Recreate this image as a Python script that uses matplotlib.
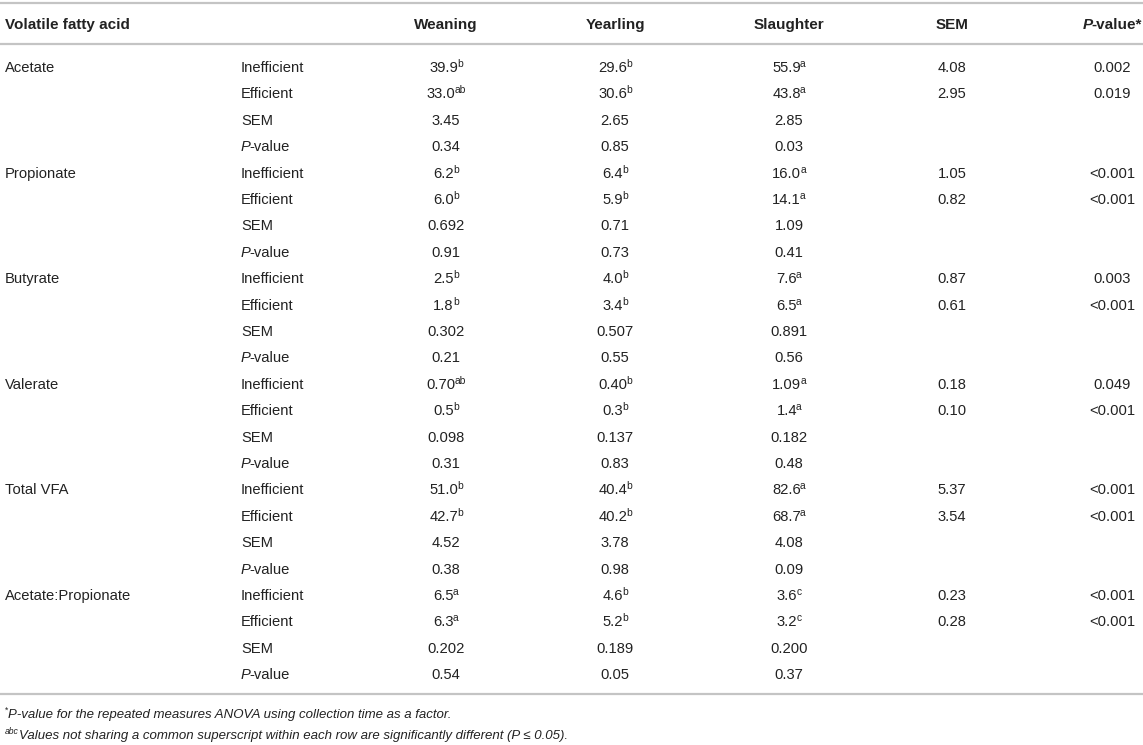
import matplotlib
matplotlib.use("Agg")
import matplotlib.pyplot as plt

# table contents
acids = ['Acetate', 'Propionate', 'Butyrate', 'Valerate', 'Total VFA', 'Acetate:Propionate']
stages = ['Weaning', 'Yearling', 'Slaughter']

weaning_inefficient = [('39.9', 'b'), ('6.2', 'b'), ('2.5', 'b'), ('0.70', 'ab'), ('51.0', 'b'), ('6.5', 'a')]
weaning_efficient = [('33.0', 'ab'), ('6.0', 'b'), ('1.8', 'b'), ('0.5', 'b'), ('42.7', 'b'), ('6.3', 'a')]
weaning_sem = ['3.45', '0.692', '0.302', '0.098', '4.52', '0.202']
weaning_p = ['0.34', '0.91', '0.21', '0.31', '0.38', '0.54']

yearling_inefficient = [('29.6', 'b'), ('6.4', 'b'), ('4.0', 'b'), ('0.40', 'b'), ('40.4', 'b'), ('4.6', 'b')]
yearling_efficient = [('30.6', 'b'), ('5.9', 'b'), ('3.4', 'b'), ('0.3', 'b'), ('40.2', 'b'), ('5.2', 'b')]
yearling_sem = ['2.65', '0.71', '0.507', '0.137', '3.78', '0.189']
yearling_p = ['0.85', '0.73', '0.55', '0.83', '0.98', '0.05']

slaughter_inefficient = [('55.9', 'a'), ('16.0', 'a'), ('7.6', 'a'), ('1.09', 'a'), ('82.6', 'a'), ('3.6', 'c')]
slaughter_efficient = [('43.8', 'a'), ('14.1', 'a'), ('6.5', 'a'), ('1.4', 'a'), ('68.7', 'a'), ('3.2', 'c')]
slaughter_sem = ['2.85', '1.09', '0.891', '0.182', '4.08', '0.200']
slaughter_p = ['0.03', '0.41', '0.56', '0.48', '0.09', '0.37']

sem_inefficient = ['4.08', '1.05', '0.87', '0.18', '5.37', '0.23']
sem_efficient = ['2.95', '0.82', '0.61', '0.10', '3.54', '0.28']
p_inefficient = ['0.002', '<0.001', '0.003', '0.049', '<0.001', '<0.001']
p_efficient = ['0.019', '<0.001', '<0.001', '<0.001', '<0.001', '<0.001']

footnote1 = 'P-value for the repeated measures ANOVA using collection time as a factor.'
footnote2 = 'Values not sharing a common superscript within each row are significantly different (P \u2264 0.05).'

plt.rcParams['font.family'] = ['Liberation Sans', 'DejaVu Sans']
TXT = '#222222'
LINE = '#c4c4c4'
FS = 10.6
HFS = 11

fig = plt.figure(figsize=(11.43, 7.45), dpi=100)
ax = fig.add_axes([0, 0, 1, 1])
ax.set_xlim(0, 1143)
ax.set_ylim(745, 0)
ax.axis('off')
fig.canvas.draw()
renderer = fig.canvas.get_renderer()


def width_of(s, **kw):
    t = ax.text(0, 0, s, fontsize=kw.get('size', FS), fontweight=kw.get('weight', 'normal'),
                fontstyle=kw.get('style', 'normal'))
    w = t.get_window_extent(renderer).width
    t.remove()
    return w - kw.get('kern', 0)


def rich(x, y, segs, ha='left'):
    # segs: list of (text, options); y is the row centre in pixels
    widths = [width_of(s, **o) for s, o in segs]
    total = sum(widths)
    if ha == 'center':
        x = x - total / 2
    elif ha == 'right':
        x = x - total
    base = y + 5
    for (s, o), w in zip(segs, widths):
        ax.text(x, base - o.get('dy', 0), s, fontsize=o.get('size', FS),
                fontweight=o.get('weight', 'normal'), fontstyle=o.get('style', 'normal'),
                color=TXT, va='baseline', ha='left')
        x += w


def val(v, sup=None):
    if not sup:
        return [(v, {})]
    return [(v, {'kern': 1}), (sup, {'size': FS * 0.7, 'dy': 5})]


col_x = {'acid': 5, 'kind': 241, 'Weaning': 446, 'Yearling': 615, 'Slaughter': 789,
         'sem': 952, 'p': 1112}
row0, dy = 67, 26.4

# rules
for yy in (3, 44, 694):
    ax.plot([0, 1143], [yy, yy], color=LINE, lw=1.6, solid_capstyle='butt')

# header
hy = 24
bold = {'weight': 'bold', 'size': HFS}
rich(col_x['acid'], hy, [('Volatile fatty acid', bold)])
for st in stages:
    rich(col_x[st], hy, [(st, bold)], ha='center')
rich(col_x['sem'], hy, [('SEM', bold)], ha='center')
rich(1142, hy, [('P', dict(bold, style='italic', kern=1)), ('-value*', bold)], ha='right')

stage_data = {
    'Weaning': (weaning_inefficient, weaning_efficient, weaning_sem, weaning_p),
    'Yearling': (yearling_inefficient, yearling_efficient, yearling_sem, yearling_p),
    'Slaughter': (slaughter_inefficient, slaughter_efficient, slaughter_sem, slaughter_p),
}

for i, acid in enumerate(acids):
    y = [row0 + (4 * i + k) * dy for k in range(4)]
    rich(col_x['acid'], y[0], [(acid, {})])
    rich(col_x['kind'], y[0], [('Inefficient', {})])
    rich(col_x['kind'], y[1], [('Efficient', {})])
    rich(col_x['kind'], y[2], [('SEM', {})])
    rich(col_x['kind'], y[3], [('P', {'style': 'italic', 'kern': 1.5}), ('-value', {})])
    for st in stages:
        ineff, eff, sem, p = stage_data[st]
        rich(col_x[st], y[0], val(*ineff[i]), ha='center')
        rich(col_x[st], y[1], val(*eff[i]), ha='center')
        rich(col_x[st], y[2], val(sem[i]), ha='center')
        rich(col_x[st], y[3], val(p[i]), ha='center')
    rich(col_x['sem'], y[0], val(sem_inefficient[i]), ha='center')
    rich(col_x['sem'], y[1], val(sem_efficient[i]), ha='center')
    rich(col_x['p'], y[0], val(p_inefficient[i]), ha='center')
    rich(col_x['p'], y[1], val(p_efficient[i]), ha='center')

# footnotes
FN = 9.5
rich(5, 713, [('*', {'size': FN * 0.65, 'dy': 5}), (footnote1, {'style': 'italic', 'size': FN})])
rich(5, 734, [('abc', {'size': FN * 0.65, 'dy': 5, 'style': 'italic'}),
              (footnote2, {'style': 'italic', 'size': FN})])

fig.savefig('out.png', dpi=100)
